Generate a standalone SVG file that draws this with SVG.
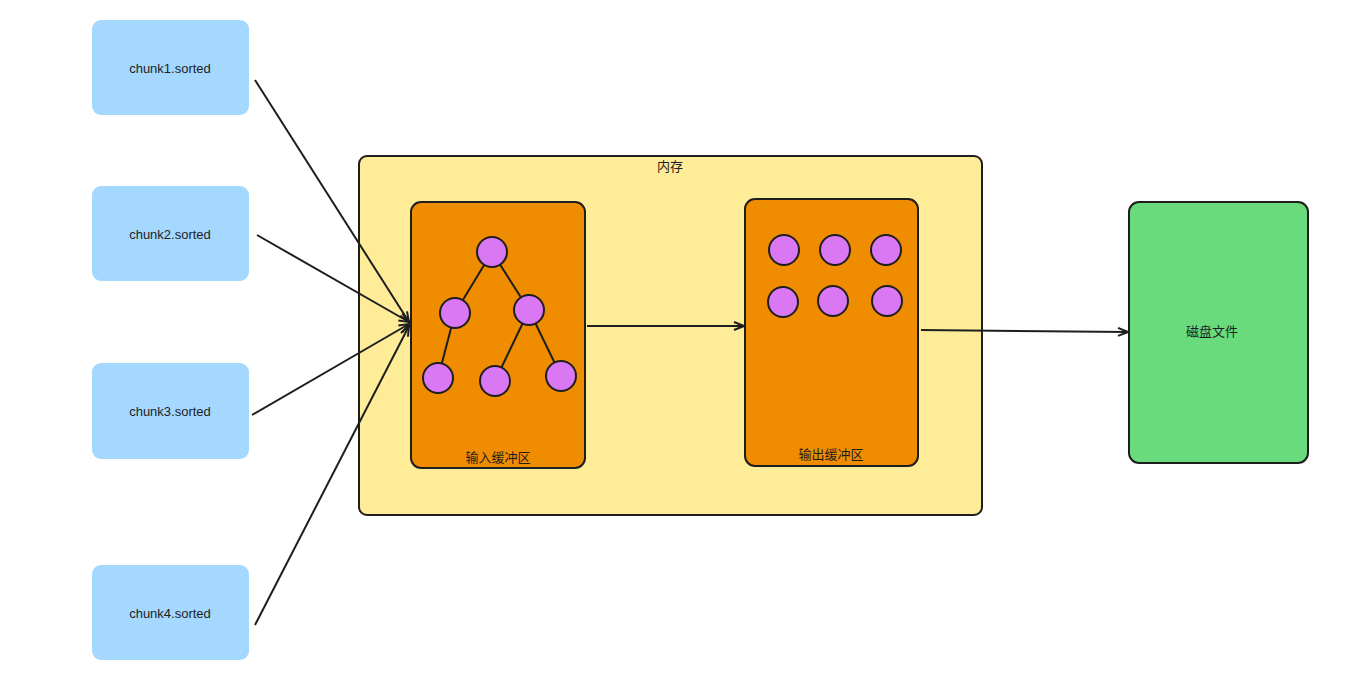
<svg xmlns="http://www.w3.org/2000/svg" width="1358" height="683" viewBox="0 0 1358 683">
<style>
.bg{fill:#ffffff}
.chunk{fill:#a5d8ff;stroke:none}
.mem{fill:#ffec99;stroke:#1e1e1e;stroke-width:2}
.buf{fill:#f08c00;stroke:#1e1e1e;stroke-width:2}
.disk{fill:#69db7c;stroke:#1e1e1e;stroke-width:2}
.dot{fill:#da77f2;stroke:#1e1e1e;stroke-width:2}
.edge{stroke:#1e1e1e;stroke-width:2;fill:none}
.conn{stroke:#1e1e1e;stroke-width:2;fill:none;marker-end:url(#arr)}
.lbl{font-family:"Liberation Sans","Noto Sans CJK SC",sans-serif;font-size:13px;fill:#1e1e1e;text-anchor:middle;dominant-baseline:central}
</style>
<defs>
<marker id="arr" viewBox="0 0 12 12" refX="11" refY="6" markerWidth="12" markerHeight="12" markerUnits="userSpaceOnUse" orient="auto">
<path d="M1,2 L11,6 L1,10" fill="none" stroke="#1e1e1e" stroke-width="2"/>
</marker>
</defs>
<rect class="bg" x="0" y="0" width="1358" height="683"/>

<g id="chunk1"><rect class="chunk" x="92" y="20" width="157" height="95" rx="9"/><text class="lbl" x="170" y="68">chunk1.sorted</text></g>
<g id="chunk2"><rect class="chunk" x="92" y="186" width="157" height="95" rx="9"/><text class="lbl" x="170" y="234">chunk2.sorted</text></g>
<g id="chunk3"><rect class="chunk" x="92" y="363" width="157" height="96" rx="9"/><text class="lbl" x="170" y="411">chunk3.sorted</text></g>
<g id="chunk4"><rect class="chunk" x="92" y="565" width="157" height="95" rx="9"/><text class="lbl" x="170" y="613">chunk4.sorted</text></g>

<g id="memory"><rect class="mem" x="359" y="156" width="623" height="359" rx="8"/><text class="lbl" x="670" y="166">内存</text></g>

<g id="input-buffer">
<rect class="buf" x="411" y="202" width="174" height="266" rx="10"/>
<line class="edge" x1="492" y1="252" x2="455" y2="313"/>
<line class="edge" x1="492" y1="252" x2="529" y2="310"/>
<line class="edge" x1="455" y1="313" x2="438" y2="378"/>
<line class="edge" x1="529" y1="310" x2="495" y2="381"/>
<line class="edge" x1="529" y1="310" x2="561" y2="376"/>
<circle class="dot" cx="492" cy="252" r="15"/>
<circle class="dot" cx="455" cy="313" r="15"/>
<circle class="dot" cx="529" cy="310" r="15"/>
<circle class="dot" cx="438" cy="378" r="15"/>
<circle class="dot" cx="495" cy="381" r="15"/>
<circle class="dot" cx="561" cy="376" r="15"/>
<text class="lbl" x="498" y="457">输入缓冲区</text>
</g>

<g id="output-buffer">
<rect class="buf" x="745" y="199" width="173" height="267" rx="10"/>
<circle class="dot" cx="784" cy="250" r="15"/>
<circle class="dot" cx="835" cy="250" r="15"/>
<circle class="dot" cx="886" cy="250" r="15"/>
<circle class="dot" cx="783" cy="302" r="15"/>
<circle class="dot" cx="833" cy="301" r="15"/>
<circle class="dot" cx="887" cy="301" r="15"/>
<text class="lbl" x="831" y="454">输出缓冲区</text>
</g>

<g id="disk-file"><rect class="disk" x="1129" y="202" width="179" height="261" rx="10"/><text class="lbl" x="1212" y="331">磁盘文件</text></g>

<g id="connectors">
<path class="conn" d="M255,80 L409,322"/>
<path class="conn" d="M257,235 L409,322"/>
<path class="conn" d="M252,415 L409,324"/>
<path class="conn" d="M255,625 L409,326"/>
<path class="conn" d="M587,326 L744,326"/>
<path class="conn" d="M921,330 L1128,332"/>
</g>
</svg>
